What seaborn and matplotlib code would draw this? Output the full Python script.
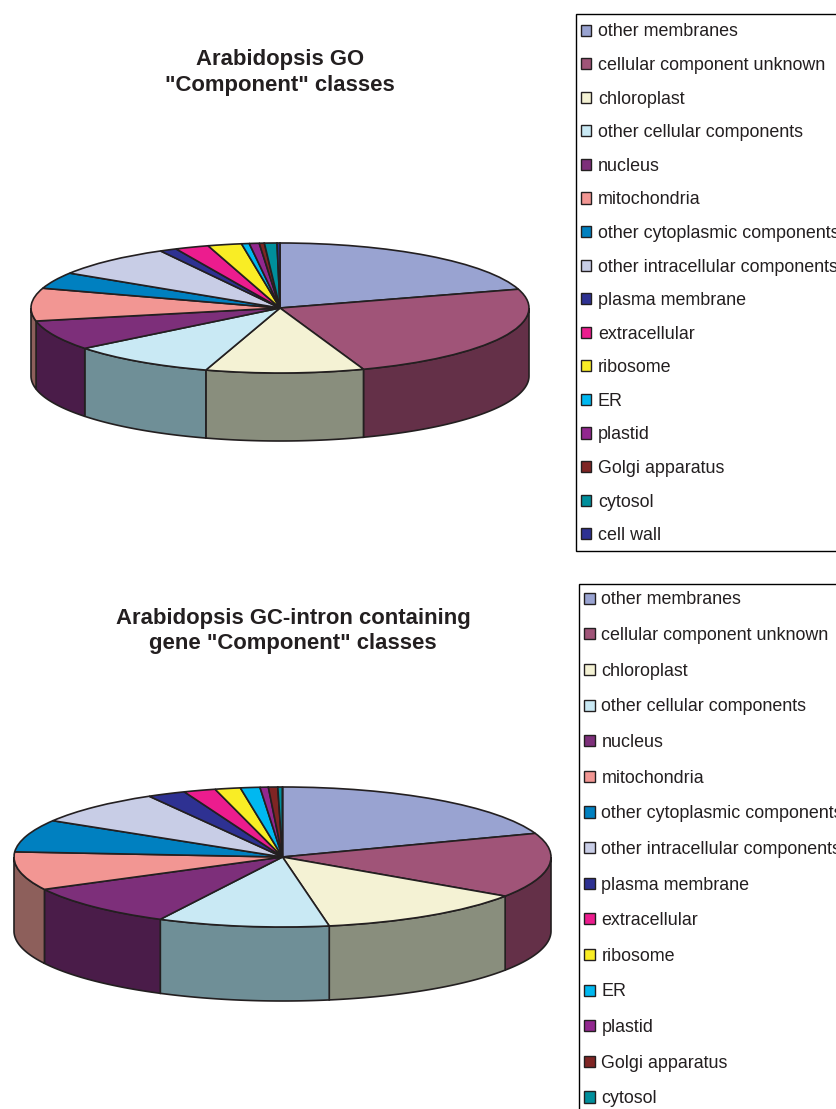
import numpy as np
import matplotlib
matplotlib.use("Agg")
import matplotlib.pyplot as plt
from matplotlib.patches import Patch, Rectangle
import seaborn as sns

categories = [
    "other membranes", "cellular component unknown", "chloroplast",
    "other cellular components", "nucleus", "mitochondria",
    "other cytoplasmic components", "other intracellular components",
    "plasma membrane", "extracellular", "ribosome", "ER", "plastid",
    "Golgi apparatus", "cytosol", "cell wall",
]
go_share = [20.33, 24.22, 10.25, 9.53, 7.44, 8.14, 4.08, 8.03, 1.11, 2.19, 2.19, 0.5, 0.64, 0.33, 0.81, 0.19]
gc_intron_share = [19.53, 14.92, 12.78, 10.31, 9.83, 8.83, 7.5, 8.06, 2.31, 1.92, 1.53, 1.17, 0.5, 0.56, 0.28, 0.0]

top_colors = [
    "#99A3D1", "#A05478", "#F4F2D4", "#C9E9F4", "#7D2F7A", "#F29693",
    "#0080C0", "#C8CDE6", "#2E3192", "#EC1C8E", "#F9ED25", "#00B8F0",
    "#92278F", "#7F2524", "#008F9C", "#2E3192",
]
side_colors = [
    "#5B617C", "#643048", "#898E7D", "#6F8F97", "#4A1C49", "#8D5F5B",
    "#004C72", "#777A89", "#1B1D57", "#8C1054", "#948D16", "#006D8E",
    "#571755", "#4B1615", "#00555D", "#1B1D57",
]

WIDTH, HEIGHT = 837, 1109
LINE = "#231F20"

sns.set_theme(style="white")
plt.rcParams["font.family"] = ["Liberation Sans", "DejaVu Sans"]
palette = sns.color_palette(top_colors)

fig = plt.figure(figsize=(WIDTH / 100, HEIGHT / 100), dpi=100, facecolor="white")


def pie_3d(values, cx, cy, rx, ry, depth):
    """Flattened pie with a rim; all sizes are in figure pixels."""
    ax = fig.add_axes([(cx - rx - 3) / WIDTH, 1 - (cy + ry + depth + 3) / HEIGHT,
                       (2 * rx + 6) / WIDTH, (2 * ry + depth + 6) / HEIGHT])
    ax.pie(values, colors=palette, startangle=90, counterclock=False, radius=1,
           wedgeprops=dict(edgecolor=LINE, linewidth=1.2, zorder=3))
    ax.set_aspect("auto")
    ax.set_xlim(-1 - 3 / rx, 1 + 3 / rx)
    ax.set_ylim(-1 - (depth + 3) / ry, 1 + 3 / ry)
    ax.axis("off")

    # Rim: each slice that reaches the front half of the ellipse gets a band
    edges = np.cumsum([0] + list(values)) / np.sum(values) * 360
    drop = depth / ry
    for start, stop, shade in zip(edges[:-1], edges[1:], side_colors):
        a, b = max(start, 90), min(stop, 270)
        if b <= a:
            continue
        theta = np.radians(np.linspace(a, b, 60))
        x, y = np.sin(theta), np.cos(theta)
        ax.fill(np.r_[x, x[::-1]], np.r_[y, y[::-1] - drop],
                facecolor=shade, edgecolor=LINE, linewidth=1.2, zorder=2)


def legend_box(frame_left, frame_top, frame_bottom, left, top, spacing):
    # The frame is drawn separately so its padding can differ per side
    fig.add_artist(Rectangle((frame_left / WIDTH, 1 - frame_bottom / HEIGHT),
                             (WIDTH + 20 - frame_left) / WIDTH,
                             (frame_bottom - frame_top) / HEIGHT,
                             transform=fig.transFigure, facecolor="white",
                             edgecolor="black", linewidth=1.0))
    handles = [Patch(facecolor=c, edgecolor=LINE, linewidth=1.0) for c in palette]
    fig.legend(handles, categories, loc="upper left",
               bbox_to_anchor=(left / WIDTH, 1 - top / HEIGHT),
               bbox_transform=fig.transFigure, borderaxespad=0, borderpad=0,
               fontsize=12.9, labelspacing=spacing, handlelength=0.58,
               handleheight=0.58, handletextpad=0.36, frameon=False,
               labelcolor="#231F20")


pie_3d(go_share, 280, 308, 249, 65, 68)
pie_3d(gc_intron_share, 282.5, 857, 268.5, 70, 74)

legend_box(575.5, 13.5, 550.5, 581, 23.5, 0.925)
legend_box(579.5, 583.5, 1150, 584.5, 591.5, 1.04)

fig.text(280 / WIDTH, 1 - 72.5 / HEIGHT, 'Arabidopsis GO\n"Component" classes',
         ha="center", va="center", fontsize=15.9, fontweight="bold",
         color="#231F20", linespacing=1.26)
fig.text(293 / WIDTH, 1 - 631 / HEIGHT,
         'Arabidopsis GC-intron containing\ngene "Component" classes',
         ha="center", va="center", fontsize=15.9, fontweight="bold",
         color="#231F20", linespacing=1.26)

fig.savefig("out.png", dpi=100, facecolor="white")
